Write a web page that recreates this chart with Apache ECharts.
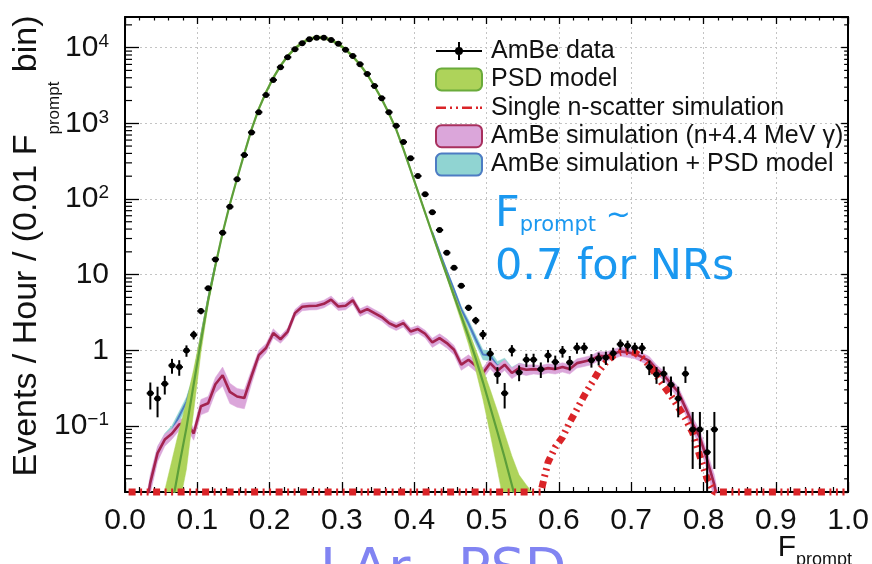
<!DOCTYPE html>
<html><head><meta charset="utf-8">
<script src="https://cdn.jsdelivr.net/npm/echarts@6/dist/echarts.min.js"></script>
<style>html,body{margin:0;padding:0;background:#fff}#c{width:872px;height:564px}</style>
</head><body><div id="c"></div>
<script>
// ---------- axis ranges / ticks ----------
const Y_MIN = 0.01339, Y_MAX = 25410;
const X_MIN = 0, X_MAX = 1, X_STEP = 0.1;
const yTickExponents = [-1, 0, 1, 2, 3, 4];
const HALF_BIN = 0.005;

// ---------- AmBe data (rate per bin, symmetric error) ----------
const dataF = [0.035,0.045,0.055,0.065,0.075,0.085,0.095,0.105,0.115,0.125,0.135,0.145,0.155,0.165,0.175,0.185,0.195,0.205,0.215,0.225,0.235,0.245,0.255,0.265,0.275,0.285,0.295,0.305,0.315,0.325,0.335,0.345,0.355,0.365,0.375,0.385,0.395,0.405,0.415,0.425,0.435,0.445,0.455,0.465,0.475,0.485,0.495,0.505,0.515,0.525,0.535,0.545,0.555,0.565,0.575,0.585,0.595,0.605,0.615,0.625,0.635,0.645,0.655,0.665,0.675,0.685,0.695,0.705,0.715,0.725,0.735,0.745,0.755,0.765,0.775,0.785,0.795,0.805,0.815];
const dataRate = [0.27,0.23,0.36,0.63,0.60,0.99,1.6,3.3,6.6,15.9,35.8,79,182,381,758,1400,2370,3740,5510,7470,9520,11430,12900,13550,13550,12640,11300,9410,7770,6040,4500,3120,2150,1400,925,567,344,201,115,66.7,38.9,19.5,12.3,7.1,3.65,2.48,1.62,0.90,0.48,0.27,1.0,0.51,0.75,0.75,0.56,0.85,0.70,0.97,0.69,1.08,1.08,0.74,0.78,0.80,0.91,1.2,1.15,1.08,1.07,0.60,0.48,0.49,0.35,0.23,0.49,0.09,0.09,0.045,0.09];
const dataErr = [0.105,0.10,0.10,0.14,0.14,0.17,0.21,0.31,0.45,0.7,1.1,1.6,2.4,3.5,5,7,9,11,13,16,18,19,20,21,21,20,19,17,16,14,12,10,8,7,5.5,4.3,3.3,2.6,1.9,1.5,1.1,0.8,0.63,0.48,0.34,0.28,0.23,0.17,0.12,0.10,0.17,0.12,0.15,0.15,0.13,0.16,0.15,0.17,0.15,0.18,0.18,0.15,0.15,0.16,0.17,0.19,0.19,0.18,0.18,0.13,0.12,0.12,0.10,0.10,0.12,0.063,0.063,0.043,0.063];

// ---------- PSD model (central value and band) ----------
const psdF = [0.045,0.055,0.065,0.075,0.085,0.095,0.105,0.115,0.125,0.135,0.145,0.155,0.165,0.175,0.185,0.195,0.205,0.215,0.225,0.235,0.245,0.255,0.265,0.275,0.285,0.295,0.305,0.315,0.325,0.335,0.345,0.355,0.365,0.375,0.385,0.395,0.405,0.415,0.425,0.435,0.445,0.455,0.465,0.475,0.485,0.495,0.505,0.515,0.525,0.535,0.545,0.555,0.565,0.575];
const psdRate = [0.00025,0.0025,0.0089,0.030,0.095,0.355,1.32,4.57,13.2,35.5,85,186,398,832,1550,2570,3980,5750,7760,9770,11600,13000,13650,13500,12600,11200,9440,7670,5960,4420,3090,2090,1350,832,457,240,126,66,34.7,18.2,9.8,5.25,2.82,1.51,0.78,0.38,0.178,0.083,0.038,0.0166,0.0071,0.0032,0.00126,0.0005];
const psdHi = [0.0025,0.0141,0.0355,0.089,0.209,0.562,1.66,5.13,14.1,37.2,89,195,417,871,1620,2690,4170,6020,8130,10230,12150,13600,14300,14130,13190,11730,9880,8030,6240,4630,3240,2190,1410,871,479,251,132,69,36.3,19.1,10.5,5.75,3.24,1.86,1.02,0.562,0.302,0.158,0.079,0.040,0.0224,0.0166,0.0126,0.0100];
const psdLo = [0.00003,0.0004,0.002,0.0089,0.0269,0.158,0.933,3.98,12.2,33.9,81,178,380,795,1480,2450,3800,5490,7410,9330,11080,12410,13040,12890,12030,10700,9020,7320,5690,4220,2950,2000,1290,795,436,229,120,63,33.1,17.4,9.12,4.68,2.40,1.20,0.55,0.224,0.079,0.0263,0.0085,0.0026,0.0009,0.0003,0.00013,0.00005];

// ---------- AmBe simulation (n + 4.4 MeV gamma) ----------
const simF = [0.025,0.035,0.045,0.055,0.065,0.075,0.085,0.095,0.105,0.115,0.125,0.135,0.145,0.155,0.165,0.175,0.185,0.195,0.205,0.215,0.225,0.235,0.245,0.255,0.265,0.275,0.285,0.295,0.305,0.315,0.325,0.335,0.345,0.355,0.365,0.375,0.385,0.395,0.405,0.415,0.425,0.435,0.445,0.455,0.465,0.475,0.485,0.495,0.505,0.515,0.525,0.535,0.545,0.555,0.565,0.575,0.585,0.595,0.605,0.615,0.625,0.635,0.645,0.655,0.665,0.675,0.685,0.695,0.705,0.715,0.725,0.735,0.745,0.755,0.765,0.775,0.785,0.795,0.805,0.815,0.825];
const simRate = [0.0050,0.0178,0.0437,0.0661,0.0794,0.1047,0.1122,0.0794,0.182,0.1995,0.355,0.468,0.282,0.245,0.234,0.457,0.861,1.072,1.687,1.396,1.770,3.097,3.758,3.846,3.873,4.111,4.677,3.793,3.873,4.592,3.162,3.499,3.097,2.748,2.286,2.061,2.286,1.770,1.905,1.652,1.268,1.449,1.245,1.016,0.646,0.750,0.624,0.501,0.676,0.537,0.646,0.501,0.581,0.552,0.564,0.552,0.581,0.564,0.600,0.564,0.676,0.711,0.748,0.845,0.830,0.899,0.966,0.938,0.899,0.813,0.724,0.562,0.468,0.363,0.282,0.174,0.107,0.0708,0.0355,0.0166,0.0050];
const simRelErr = [0.28,0.28,0.23,0.185,0.16,0.16,0.16,0.185,0.23,0.23,0.23,0.28,0.30,0.28,0.28,0.21,0.16,0.14,0.14,
  0.115,0.115,0.115,0.115,0.115,0.115,0.115,0.115,0.115,0.115,0.115,0.115,0.115,0.115,0.115,0.115,0.115,0.115,0.115,0.115,0.115,
  0.14,0.14,0.14,0.14,
  0.16,0.16,0.16,0.16,0.16,0.16,0.16,0.16,0.16,0.16,
  0.14,0.14,0.14,0.14,0.14,0.14,0.14,0.14,0.14,0.14,0.14,0.14,0.14,0.14,0.14,0.14,0.14,0.14,0.14,
  0.16,0.16,0.185,0.21,0.23,0.28,0.35,0.45];

// ---------- AmBe simulation + PSD model (visible parts) ----------
const sumLeftF = [0.035,0.045,0.055,0.065,0.075,0.085,0.095,0.105,0.115,0.125];
const sumLeftRate = [0.0178,0.044,0.0686,0.088,0.135,0.208,0.434,1.50,4.77,13.5];
const sumLeftErr = [0.20,0.18,0.16,0.15,0.15,0.15,0.12,0.08,0.05,0.04];
const sumRightF = [0.425,0.435,0.445,0.455,0.465,0.475,0.485,0.495,0.505,0.515,0.525,0.535,0.545,0.555];
const sumRightRate = [36.0,19.65,11.05,6.27,3.47,2.26,1.40,0.88,0.854,0.62,0.684,0.518,0.588,0.555];
const sumRightErr = [0.04,0.05,0.06,0.08,0.10,0.12,0.14,0.15,0.15,0.15,0.15,0.15,0.15,0.15];

// ---------- Single n-scatter simulation (0 = empty bin) ----------
const nsF = [0.005,0.015,0.025,0.035,0.045,0.055,0.065,0.075,0.085,0.095,0.105,0.115,0.125,0.135,0.145,0.155,0.165,0.175,0.185,0.195,0.205,0.215,0.225,0.235,0.245,0.255,0.265,0.275,0.285,0.295,0.305,0.315,0.325,0.335,0.345,0.355,0.365,0.375,0.385,0.395,0.405,0.415,0.425,0.435,0.445,0.455,0.465,0.475,0.485,0.495,0.505,0.515,0.525,0.535,0.545,0.555,0.565,0.575,0.585,0.595,0.605,0.615,0.625,0.635,0.645,0.655,0.665,0.675,0.685,0.695,0.705,0.715,0.725,0.735,0.745,0.755,0.765,0.775,0.785,0.795,0.805,0.815,0.825,0.835,0.845,0.855,0.865,0.875,0.885,0.895,0.905,0.915,0.925,0.935,0.945,0.955,0.965,0.975,0.985,0.995];
const nsRate = [0,0,0,0,0,0,0,0,0,0,0,0,0,0,0,0,0,0,0,0,0,0,0,0,0,0,0,0,0,0,0,0,0,0,0,0,0,0,0,0,0,0,0,0,0,0,0,0,0,0,0,0,0,0,0,0,0,0,
  0.0331,0.0525,0.0708,0.112,0.166,0.251,0.363,0.525,0.692,0.851,0.933,0.966,0.933,0.794,0.631,0.468,0.339,0.251,0.178,0.126,0.0813,0.0398,0.0200,
  0,0,0,0,0,0,0,0,0,0,0,0,0,0,0,0,0,0,0];

// ---------- styling ----------
const FONT = "'Liberation Sans', Arial, Helvetica, sans-serif";
const C = {
  psdFill:'#aed35a', psdLine:'#5d9f3a', psdBorder:'#6aab3b',
  simFill:'#dba6da', simLine:'#a3234f',
  sumFill:'#90d4d2', sumLine:'#4d7cc3',
  ns:'#da2428', data:'#000', blueText:'#1a98f0', cutText:'#8184f2'
};

const clampY = v => Math.max(v, Y_MIN);

function bandSeries(name, xs, lo, hi, fill, z) {
  return {
    type:'custom', name, z, silent:true,
    data: xs.map((x,i)=>[x, lo[i], hi[i]]),
    renderItem(params, api) {
      if (params.dataIndexInside !== 0) return null;
      const n = params.dataInsideLength;
      const top = [], bot = [];
      for (let j=0;j<n;j++) {
        const x = api.value(0,j);
        top.push(api.coord([x, api.value(2,j)]));
        bot.push(api.coord([x, api.value(1,j)]));
      }
      const cs = params.coordSys;
      return {type:'group',
        clipPath:{type:'rect', shape:{x:cs.x, y:cs.y, width:cs.width, height:cs.height}},
        children:[{type:'polygon', shape:{points: top.concat(bot.reverse())}, style:{fill, stroke:fill, lineWidth:0.5}}]};
    }
  };
}
function lineSeries(name, xs, ys, color, width, z) {
  return {type:'line', name, z, silent:true, symbol:'none', clip:true,
    data: xs.map((x,i)=>[x, ys[i]]), lineStyle:{color, width}};
}
const relLo = (r,e)=>r.map((v,i)=>v*(1-e[i]));
const relHi = (r,e)=>r.map((v,i)=>v*(1+e[i]));

// minor log ticks (axis decoration)
const minorVals = [];
for (let k=-2;k<=4;k++) for (let m=2;m<=9;m++) { const v=m*Math.pow(10,k); if (v>Y_MIN && v<Y_MAX) minorVals.push(v); }

const series = [
  bandSeries('AmBe simulation + PSD model', sumLeftF, relLo(sumLeftRate,sumLeftErr), relHi(sumLeftRate,sumLeftErr), C.sumFill, 2),
  bandSeries('AmBe simulation + PSD model', sumRightF, relLo(sumRightRate,sumRightErr), relHi(sumRightRate,sumRightErr), C.sumFill, 2),
  lineSeries('sum-left', sumLeftF, sumLeftRate, C.sumLine, 2, 3),
  lineSeries('sum-right', sumRightF, sumRightRate, C.sumLine, 2, 3),
  bandSeries('AmBe simulation (n+4.4 MeV γ)', simF, relLo(simRate,simRelErr), relHi(simRate,simRelErr), C.simFill, 4),
  lineSeries('sim-line', simF, simRate, C.simLine, 2.6, 5),
  bandSeries('PSD model', psdF, psdLo, psdHi, C.psdFill, 6),
  lineSeries('psd-line', psdF, psdRate, C.psdLine, 2.2, 7),
  {type:'line', name:'Single n-scatter simulation', z:8, silent:true, symbol:'none', clip:false,
    data: nsF.map((x,i)=>[x, clampY(nsRate[i])]),
    lineStyle:{color:C.ns, width:7, type:[7,4.5,2,4.5,2,4.5], cap:'butt'}},
  {type:'custom', name:'AmBe data', z:9, silent:true,
    data: dataF.map((x,i)=>[x, dataRate[i], dataErr[i]]),
    renderItem(params, api) {
      const x=api.value(0), y=api.value(1), e=api.value(2);
      const c=api.coord([x,y]);
      const l=api.coord([x-HALF_BIN,y]), r=api.coord([x+HALF_BIN,y]);
      const lo=api.coord([x, clampY(y-e)]), hi=api.coord([x, y+e]);
      const st={stroke:'#000', lineWidth:2};
      return {type:'group', children:[
        {type:'line', shape:{x1:l[0],y1:l[1],x2:r[0],y2:r[1]}, style:st},
        {type:'line', shape:{x1:lo[0],y1:lo[1],x2:hi[0],y2:hi[1]}, style:st},
        {type:'circle', shape:{cx:c[0],cy:c[1],r:3}, style:{fill:'#000'}}
      ]};
    }},
  {type:'custom', name:'minor-ticks', z:10, silent:true,
    data: minorVals.map(v=>[X_MIN, v]),
    renderItem(params, api) {
      const v=api.value(1);
      const a=api.coord([X_MIN,v]), b=api.coord([X_MAX,v]);
      const st={stroke:'#000', lineWidth:1.2};
      return {type:'group', children:[
        {type:'line', shape:{x1:a[0],y1:a[1],x2:a[0]+7,y2:a[1]}, style:st},
        {type:'line', shape:{x1:b[0],y1:b[1],x2:b[0]-4,y2:b[1]}, style:st}]};
    }}
];

const axisLine = {show:true, onZero:false, lineStyle:{color:'#000', width:2}};
const gridLine = {show:true, lineStyle:{color:'#c4c4c4', width:1, type:[2,3]}};
const yFormatter = v => {
  const e = Math.round(Math.log10(v));
  if (!yTickExponents.includes(e)) return '';
  if (e===0) return '{b|1}';
  if (e===1) return '{b|10}';
  return '{b|10}{sup|' + (e<0 ? '\u2212'+(-e) : e) + '}';
};

const option = {
  animation:false,
  grid:{left:125, right:20, top:17, bottom:72, containLabel:false},
  xAxis:[
    {type:'value', min:X_MIN, max:X_MAX, interval:X_STEP, position:'bottom', axisLine,
      axisTick:{show:true, inside:true, length:10, lineStyle:{color:'#000', width:1.3}},
      minorTick:{show:true, splitNumber:5, length:5, lineStyle:{color:'#000', width:1.2}},
      axisLabel:{fontSize:30, fontFamily:FONT, color:'#111', margin:14, formatter:v=>v.toFixed(1)},
      splitLine:gridLine},
    {type:'value', min:X_MIN, max:X_MAX, interval:X_STEP, position:'top', axisLine,
      axisTick:{show:true, inside:true, length:7, lineStyle:{color:'#000', width:1.3}},
      minorTick:{show:true, splitNumber:5, length:3.5, lineStyle:{color:'#000', width:1.2}},
      axisLabel:{show:false}, splitLine:{show:false}}
  ],
  yAxis:[
    {type:'log', logBase:10, min:Y_MIN, max:Y_MAX, position:'left', axisLine,
      axisTick:{show:true, inside:true, length:14, lineStyle:{color:'#000', width:1.3}},
      axisLabel:{fontFamily:FONT, color:'#111', margin:16, showMinLabel:false, showMaxLabel:false,
        formatter:yFormatter,
        rich:{b:{fontSize:30, fontFamily:FONT, color:'#111'}, sup:{fontSize:19, fontFamily:FONT, color:'#111', verticalAlign:'top', padding:[0,0,12,0]}}},
      splitLine:gridLine},
    {type:'log', logBase:10, min:Y_MIN, max:Y_MAX, position:'right', axisLine,
      axisTick:{show:true, inside:true, length:7, lineStyle:{color:'#000', width:1.3}},
      axisLabel:{show:false}, splitLine:{show:false}}
  ],
  legend:{
    orient:'vertical', left:435, top:38.5, padding:0, itemWidth:46, itemHeight:22, itemGap:3.4,
    selectedMode:false,
    textStyle:{fontSize:25, fontFamily:FONT, color:'#111', padding:[0,0,0,4]},
    data:[
      {name:'AmBe data', icon:'path://M0,10H46V12H0Z M22,2H24V20H22Z M23,7A4,4,0,1,1,22.99,7Z', itemStyle:{color:'#000', borderWidth:0}},
      {name:'PSD model', icon:'roundRect', itemStyle:{color:C.psdFill, borderColor:C.psdBorder, borderWidth:2}},
      {name:'Single n-scatter simulation', icon:'path://M0,10H10V12.5H0Z M14,10H16V12.5H14Z M20,10H22V12.5H20Z M26,10H36V12.5H26Z M40,10H42V12.5H40Z M44,10H46V12.5H44Z', itemStyle:{color:C.ns, borderWidth:0}},
      {name:'AmBe simulation (n+4.4 MeV γ)', icon:'roundRect', itemStyle:{color:C.simFill, borderColor:'#a8305e', borderWidth:2}},
      {name:'AmBe simulation + PSD model', icon:'roundRect', itemStyle:{color:C.sumFill, borderColor:C.sumLine, borderWidth:2}}
    ]
  },
  graphic:[
    {type:'text', x:36, y:246, rotation:Math.PI/2, z:100,
      style:{text:'{m|Events / Hour / (0.01 F}{s|prompt}{m| bin)}', align:'center', verticalAlign:'middle',
        rich:{m:{fontSize:34, fontFamily:FONT, fill:'#111', verticalAlign:'top'}, s:{fontSize:17, fontFamily:FONT, fill:'#111', verticalAlign:'top', padding:[36,0,0,0]}}}},
    {type:'text', right:20, top:533, z:100,
      style:{text:'{m|F}{s|prompt}', rich:{m:{fontSize:30, fontFamily:FONT, fill:'#111', verticalAlign:'top'}, s:{fontSize:18, fontFamily:FONT, fill:'#111', verticalAlign:'top', padding:[18,0,0,0]}}}},
    {type:'text', left:495, top:193, z:100,
      style:{text:'{m|F}{s|prompt}{t| ~}', rich:{m:{fontSize:43, fontFamily:'DejaVu Sans', fill:C.blueText, verticalAlign:'top'}, s:{fontSize:21, fontFamily:'DejaVu Sans', fill:C.blueText, verticalAlign:'top', padding:[22,0,0,0]}, t:{fontSize:30, fontFamily:'DejaVu Sans', fill:C.blueText, verticalAlign:'top', padding:[8,0,0,0]}}}},
    {type:'text', left:495, top:246, z:100,
      style:{text:'0.7 for NRs', fontSize:43, fontFamily:'DejaVu Sans', fill:C.blueText}},
    {type:'text', left:320, top:545, z:100,
      style:{text:'LAr', fontSize:54, fontFamily:'DejaVu Sans', fill:C.cutText}},
    {type:'text', left:458, top:545, z:100,
      style:{text:'PSD', fontSize:54, fontFamily:'DejaVu Sans', fill:C.cutText}}
  ],
  series
};
const chart = echarts.init(document.getElementById('c'), null, {renderer:'canvas'});
chart.setOption(option);
</script></body></html>
